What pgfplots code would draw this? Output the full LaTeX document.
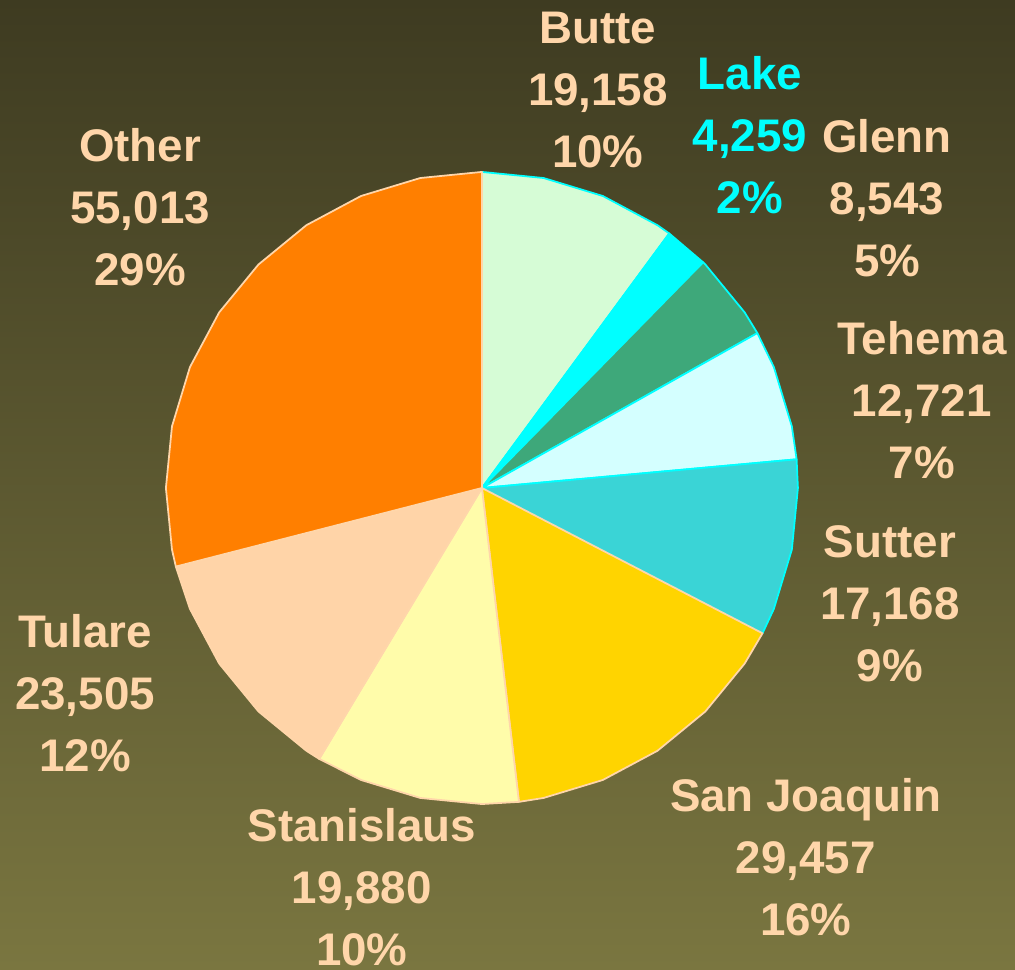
\documentclass[border=0pt]{standalone}
\usepackage{pgfplots}
\pgfplotsset{compat=1.18}
\usepackage{fontspec}
\setmainfont{Liberation Sans}

\definecolor{bgtop}{RGB}{62,59,33}
\definecolor{bgbot}{RGB}{122,118,64}
\definecolor{peach}{RGB}{255,214,170}
\definecolor{cButte}{RGB}{214,252,214}
\definecolor{cLake}{RGB}{0,255,255}
\definecolor{cGlenn}{RGB}{62,168,122}
\definecolor{cTehema}{RGB}{212,255,255}
\definecolor{cSutter}{RGB}{58,212,214}
\definecolor{cSanJoaquin}{RGB}{255,212,0}
\definecolor{cStanislaus}{RGB}{255,252,170}
\definecolor{cTulare}{RGB}{255,212,168}
\definecolor{cOther}{RGB}{255,127,0}

\tikzset{lbl/.style={align=center, text=peach,
    font=\fontsize{13}{17.6}\selectfont\bfseries}}

\begin{document}
\begin{tikzpicture}
  \begin{axis}[
      scale only axis,
      width=10.15cm, height=9.69cm,
      xmin=-1.525, xmax=1.687,
      ymin=-1.522, ymax=1.544,
      hide axis,
      no markers,
      every axis plot/.append style={line width=0.5pt, line join=round},
  ]
  \fill[top color=bgtop, bottom color=bgbot]
      (rel axis cs:0,0) rectangle (rel axis cs:1,1);

  % wedges, (angle, radius); total 189,704, clockwise from the top
  % Butte 19,158
  \addplot[data cs=polar, fill=cButte, draw=cLake] coordinates {
      (0,0) (90,1) (78.75,1) (67.5,1) (56.25,1) (53.644,1)
  } -- cycle;
  % Lake 4,259
  \addplot[data cs=polar, fill=cLake, draw=cLake] coordinates {
      (0,0) (53.644,1) (45.562,1)
  } -- cycle;
  % Glenn 8,543
  \addplot[data cs=polar, fill=cGlenn, draw=cLake] coordinates {
      (0,0) (45.562,1) (45,1) (33.75,1) (29.350,1)
  } -- cycle;
  % Tehema 12,721
  \addplot[data cs=polar, fill=cTehema, draw=cLake] coordinates {
      (0,0) (29.350,1) (22.5,1) (11.25,1) (5.209,1)
  } -- cycle;
  % Sutter 17,168
  \addplot[data cs=polar, fill=cSutter, draw=cLake] coordinates {
      (0,0) (5.209,1) (0,1) (-11.25,1) (-22.5,1) (-27.371,1)
  } -- cycle;
  % San Joaquin 29,457
  \addplot[data cs=polar, fill=cSanJoaquin, draw=peach] coordinates {
      (0,0) (-27.371,1) (-33.75,1) (-45,1) (-56.25,1) (-67.5,1)
      (-78.75,1) (-83.271,1)
  } -- cycle;
  % Stanislaus 19,880
  \addplot[data cs=polar, fill=cStanislaus, draw=peach] coordinates {
      (0,0) (-83.271,1) (-90,1) (-101.25,1) (-112.5,1) (-120.997,1)
  } -- cycle;
  % Tulare 23,505
  \addplot[data cs=polar, fill=cTulare, draw=peach] coordinates {
      (0,0) (-120.997,1) (-123.75,1) (-135,1) (-146.25,1) (-157.5,1)
      (-165.602,1)
  } -- cycle;
  % Other 55,013
  \addplot[data cs=polar, fill=cOther, draw=peach] coordinates {
      (0,0) (-165.602,1) (-168.75,1) (-180,1) (-191.25,1) (-202.5,1)
      (-213.75,1) (-225,1) (-236.25,1) (-247.5,1) (-258.75,1) (-270,1)
  } -- cycle;

  \node[lbl] at (axis cs:0.367,1.259) {Butte\\19,158\\10\%};
  \node[lbl, text=cLake] at (axis cs:0.848,1.117) {Lake\\4,259\\2\%};
  \node[lbl] at (axis cs:1.282,0.918) {Glenn\\8,543\\5\%};
  \node[lbl] at (axis cs:1.392,0.278) {Tehema\\12,721\\7\%};
  \node[lbl] at (axis cs:1.291,-0.367) {Sutter\\17,168\\9\%};
  \node[lbl] at (axis cs:1.025,-1.168) {San Joaquin\\29,457\\16\%};
  \node[lbl] at (axis cs:-0.380,-1.262) {Stanislaus\\19,880\\10\%};
  \node[lbl] at (axis cs:-1.256,-0.649) {Tulare\\23,505\\12\%};
  \node[lbl] at (axis cs:-1.082,0.889) {Other\\55,013\\29\%};
  \end{axis}
\end{tikzpicture}
\end{document}
